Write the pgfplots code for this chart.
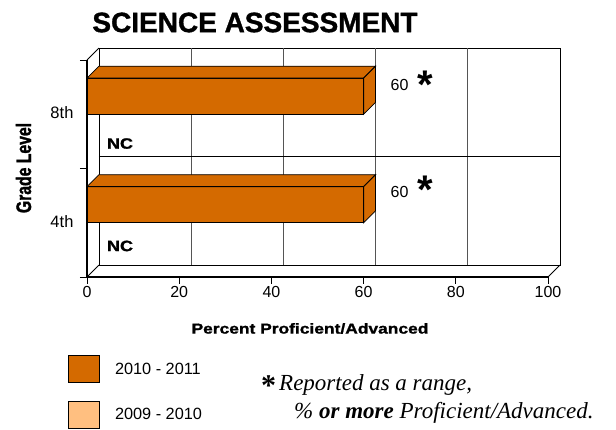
\documentclass[border=0pt]{standalone}
\usepackage{pgfplots}
\pgfplotsset{compat=1.18}
\usepackage{fontspec}
\setmainfont{Liberation Sans}
\newfontfamily\blackfont[FakeStretch=1.2, BoldFeatures={FakeBold=1.3}]{Liberation Sans}
\newfontfamily\condfont[FakeStretch=0.75, BoldFeatures={FakeBold=1.3}]{Liberation Sans}
\newfontfamily\titlefont[BoldFeatures={FakeBold=1.2}]{Liberation Sans}
\newfontfamily\seriffont{Liberation Serif}
\definecolor{barA}{HTML}{D46A00}
\definecolor{barB}{HTML}{FFBF80}
\definecolor{gridc}{HTML}{555555}
\begin{document}
\begin{tikzpicture}
\useasboundingbox (0,0) rectangle (616pt,430pt);
\begin{axis}[
  at={(87pt,153pt)}, anchor=south west,
  scale only axis, width=461pt, height=217pt,
  xmin=0, xmax=100, ymin=0, ymax=2,
  clip=false,
  axis x line*=bottom, axis y line*=left,
  axis line style={-, line width=1.1pt},
  xtick={0,20,40,60,80,100}, ytick={0,1,2}, yticklabels={},
  tick align=outside, major tick length=7pt,
  tick style={black, line width=0.9pt},
  /pgf/number format/assume math mode=true,
  xticklabel style={font=\fontsize{16}{18}\selectfont, yshift=1pt},
  legend style={at={(axis description cs:-0.0412,-0.3594)}, anchor=north west,
    draw=none, fill=none, inner sep=0pt, row sep=18pt,
    font=\fontsize{16.3}{19}\selectfont, nodes={inner sep=0pt},
    /tikz/every odd column/.append style={column sep=15pt}},
  legend cell align=left,
  legend image code/.code={\draw[#1] (0pt,-13.5pt) rectangle (31pt,13.5pt);},
]
% back wall, left wall and floor
\draw[line width=0.8pt] (axis cs:2.6,0.11) rectangle (axis cs:102.6,2.11);
\pgfplotsinvokeforeach{22.6,42.6,62.6,82.6}{
  \draw[gridc, line width=0.8pt] (axis cs:#1,0.11) -- (axis cs:#1,2.11);
}
\draw[line width=0.8pt] (axis cs:2.6,1.11) -- (axis cs:102.6,1.11);
\draw[line width=0.8pt] (axis cs:0,0) -- (axis cs:2.6,0.11);
\draw[line width=0.8pt] (axis cs:0,2) -- (axis cs:2.6,2.11);
\draw[line width=0.8pt] (axis cs:100,0) -- (axis cs:102.6,0.11);

% bars 2010 - 2011 (front faces)
\addplot[xbar, bar width=36pt, fill=barA, draw=black, line width=0.8pt, forget plot]
  coordinates {(60,0.667) (60,1.667)};
% top faces
\addplot[fill=barA, draw=black, line width=0.8pt, forget plot]
  coordinates {(0,0.833) (60,0.833) (62.6,0.943) (2.6,0.943)} --cycle;
\addplot[fill=barA, draw=black, line width=0.8pt, forget plot]
  coordinates {(0,1.833) (60,1.833) (62.6,1.943) (2.6,1.943)} --cycle;
% side faces
\addplot[fill=barA, draw=black, line width=0.8pt, forget plot]
  coordinates {(60,0.5) (62.6,0.61) (62.6,0.943) (60,0.833)} --cycle;
\addplot[fill=barA, draw=black, line width=0.8pt, forget plot]
  coordinates {(60,1.5) (62.6,1.61) (62.6,1.943) (60,1.833)} --cycle;

\addlegendimage{fill=barA, draw=black, line width=0.8pt}
\addlegendentry{2010 - 2011}
\addlegendimage{fill=barB, draw=black, line width=0.8pt}
\addlegendentry{2009 - 2010}

% category labels
\node[anchor=east, inner sep=0pt, font=\fontsize{16.5}{18}\selectfont] at (axis cs:-2.9,0.51) {4th};
\node[anchor=east, inner sep=0pt, font=\fontsize{16.5}{18}\selectfont] at (axis cs:-2.9,1.516) {8th};
% value labels
\node[inner sep=0pt, font=\fontsize{16}{18}\selectfont] at (axis cs:67.8,1.774) {60};
\node[inner sep=0pt, font=\fontsize{16}{18}\selectfont] at (axis cs:67.8,0.779) {60};
\node[anchor=base, inner sep=0pt, font=\bfseries\fontsize{40}{40}\selectfont] at (axis cs:73.4,1.645) {*};
\node[anchor=base, inner sep=0pt, font=\bfseries\fontsize{40}{40}\selectfont] at (axis cs:73.4,0.673) {*};
% NC labels
\node[inner sep=0pt, font=\blackfont\bfseries\fontsize{15}{17}\selectfont] at (axis cs:7.16,1.23) {NC};
\node[inner sep=0pt, font=\blackfont\bfseries\fontsize{15}{17}\selectfont] at (axis cs:7.16,0.286) {NC};
\end{axis}
% title and axis titles
\node[inner sep=0pt, font=\titlefont\bfseries\fontsize{28}{30}\selectfont] at (255pt,407.5pt) {SCIENCE ASSESSMENT};
\node[inner sep=0pt, rotate=90, font=\condfont\bfseries\fontsize{21}{24}\selectfont] at (23.5pt,262pt) {Grade Level};
\node[inner sep=0pt, font=\blackfont\bfseries\fontsize{14.5}{17}\selectfont] at (310pt,101.5pt) {Percent Proficient/Advanced};
% footnote
\node[anchor=base west, inner sep=0pt, font=\seriffont\bfseries\fontsize{30}{30}\selectfont] at (261pt,34pt) {*};
\node[anchor=base west, inner sep=0pt, font=\seriffont\itshape\fontsize{23}{26}\selectfont] at (279pt,39pt) {Reported as a range,};
\node[anchor=base west, inner sep=0pt, font=\seriffont\itshape\fontsize{23}{26}\selectfont] at (294pt,11.5pt) {\% \textbf{or more} Proficient/Advanced.};
\end{tikzpicture}
\end{document}
